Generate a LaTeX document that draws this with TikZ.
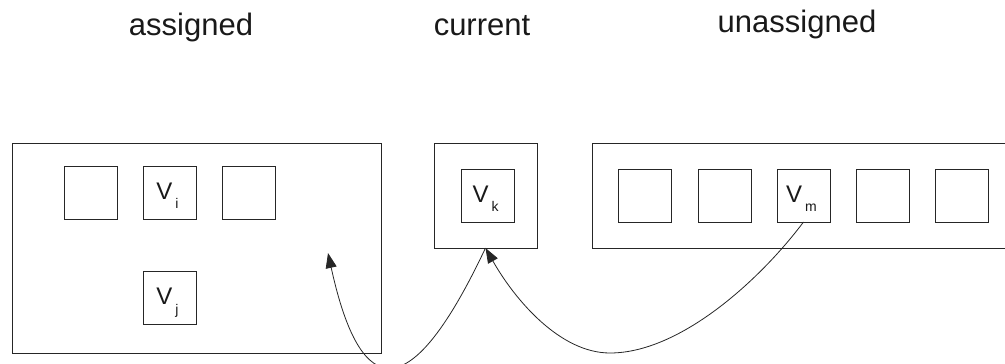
\documentclass[tikz,border=0pt]{standalone}
\usepackage{fontspec}
\setmainfont{Liberation Sans}
\usetikzlibrary{arrows.meta}
\newcommand\vsub[1]{V\kern3pt\raisebox{-9.5pt}{\fontsize{14}{15}\selectfont #1}}
\begin{document}
\begin{tikzpicture}[x=1pt,y=-1pt,
  box/.style={draw=black!85,line width=0.9pt,inner sep=0pt,outer sep=0pt},
  cell/.style={box,minimum width=53pt,minimum height=53pt},
  title/.style={inner sep=0pt,anchor=base,font=\fontsize{31}{36}\selectfont,text=black!90},
  vlab/.style={inner sep=0pt,anchor=base,font=\fontsize{24}{27}\selectfont,text=black!90},
  conn/.style={draw=black!85,line width=0.8pt,-{Triangle[length=15pt,width=11pt]}}
]
\useasboundingbox (0,0) rectangle (1005,364);
% titles
\node[title] (tA) at (191,35) {assigned};
\node[title] (tC) at (482,35) {current};
\node[title] (tU) at (797,32) {unassigned};
% containers
\node[box,minimum width=369pt,minimum height=210pt] (asg) at (196.5,248) {};
\node[box,minimum width=103pt,minimum height=105pt] (cur) at (485.5,195.5) {};
\node[box,minimum width=430pt,minimum height=105pt] (una) at (807,195.5) {};
% assigned cells
\node[cell] (a1) at (90.5,192.5) {};
\node[cell] (vi) at (169.5,192.5) {};
\node[cell] (a3) at (249,192.5) {};
\node[cell] (vj) at (169.5,298) {};
% current cell
\node[cell] (vk) at (487.5,195.5) {};
% unassigned cells
\node[cell] (u1) at (645,195.5) {};
\node[cell] (u2) at (724.5,195.5) {};
\node[cell] (vm) at (803.5,195.5) {};
\node[cell] (u4) at (882.5,195.5) {};
\node[cell] (u5) at (962,195.5) {};
% labels
\node[vlab] (li) at ([xshift=-2pt,yshift=-6.5pt]vi.center) {\vsub{i}};
\node[vlab] (lj) at ([xshift=-2pt,yshift=-6.5pt]vj.center) {\vsub{j}};
\node[vlab] (lk) at ([xshift=-2pt,yshift=-6.5pt]vk.center) {\vsub{k}};
\node[vlab] (lm) at ([xshift=-2pt,yshift=-6.5pt]vm.center) {\vsub{m}};
% connectors
\coordinate (tipA) at (328,253);
\coordinate (lowB) at (610,353);
\draw[conn] (cur.south) .. controls (411,406) and (361,404) .. (tipA);
\draw[conn] (vm.south) .. controls (760,280) and (680,353) .. (lowB)
  .. controls (560,353) and (515,300) .. (cur.south);
\end{tikzpicture}
\end{document}
